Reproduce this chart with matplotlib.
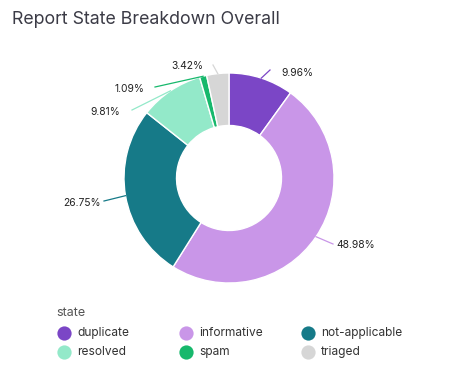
import matplotlib.pyplot as plt
import numpy as np

plt.rcParams['font.family'] = ['Inter', 'DejaVu Sans']

states = ['duplicate', 'informative', 'not-applicable', 'resolved', 'spam', 'triaged']
shares = [9.96, 48.98, 26.75, 9.81, 1.09, 3.42]
colors = ['#7b46c6', '#c996e8', '#167a88', '#93e9c9', '#17b86c', '#d6d6d6']

# label text anchors and leader-line ends, in pixels of the 460x383 canvas
label_xy = [(281, 73), (336, 245), (101, 203), (120, 112), (144, 89), (203, 66)]
label_ha = ['left', 'left', 'right', 'right', 'right', 'right']
line_end = [(270, 70), (333, 244), (104, 201), (132, 110), (155, 87), (213, 65)]

W, H = 460, 383
cx, cy, R = 229, 178, 105


def to_data(px, py):
    return (px - cx) / R, (cy - py) / R


fig = plt.figure(figsize=(W / 100, H / 100), dpi=100)
ax = fig.add_axes([0, 0, 1, 1])

wedges, _ = ax.pie(shares, colors=colors, startangle=90, counterclock=False,
                   radius=1, wedgeprops=dict(width=0.5, edgecolor='white', linewidth=1))

ax.set_xlim(-cx / R, (W - cx) / R)
ax.set_ylim(-(H - cy) / R, cy / R)
ax.set_aspect('auto')
ax.axis('off')

for w, val, col, txy, ha, lend in zip(wedges, shares, colors, label_xy, label_ha, line_end):
    mid = np.deg2rad((w.theta1 + w.theta2) / 2)
    x0, y0 = np.cos(mid) * 1.0, np.sin(mid) * 1.0
    x1, y1 = to_data(*lend)
    ax.plot([x0, x1], [y0, y1], color=col, lw=0.9)
    tx, ty = to_data(*txy)
    ax.text(tx, ty, '%.2f%%' % val, ha=ha, va='center', fontsize=7.4, color='#222222')

fig.text(12 / W, 1 - 19 / H, 'Report State Breakdown Overall', fontsize=12.8,
         color='#3b3b46', ha='left', va='center')

# legend
fig.text(56 / W, 1 - 313 / H, 'state', fontsize=9, color='#555555', ha='left', va='center')
col_x = [64, 186, 308]
row_y = [333, 352]
for i, (name, col) in enumerate(zip(states, colors)):
    mx = col_x[i % 3]
    my = row_y[i // 3]
    ax.scatter([mx / W], [1 - my / H], s=105, color=col, transform=fig.transFigure,
               clip_on=False, linewidths=0)
    fig.text((mx + 13) / W, 1 - my / H, name, fontsize=8.6, color='#333333',
             ha='left', va='center')

plt.savefig('out.png', dpi=100)
